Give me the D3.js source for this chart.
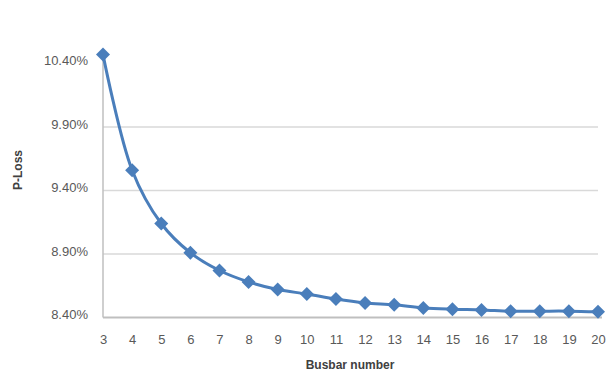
<!DOCTYPE html>
<html>
<head>
<meta charset="utf-8">
<script src="https://cdn.jsdelivr.net/npm/d3@7"></script>
<style>
  body { margin: 0; background: #fff; }
  text { font-family: "Liberation Sans", Arial, sans-serif; }
</style>
</head>
<body>
<div id="graph"></div>
<script>
var busbars = [3, 4, 5, 6, 7, 8, 9, 10, 11, 12, 13, 14, 15, 16, 17, 18, 19, 20];
var pertes = [10.47, 9.56, 9.14, 8.91, 8.77, 8.68, 8.62, 8.585, 8.545, 8.515, 8.50, 8.475, 8.465, 8.46, 8.45, 8.45, 8.45, 8.445];
var graduations = [8.40, 8.90, 9.40, 9.90, 10.40];

function dessin() {
    var width = 610, height = 376,
        gauche = 103, droite = 598, haut = 63.5, bas = 317.5,
        couleur = "#4a7ebb",

        svg = d3.select("#graph")
            .append("svg")
                .attr("width", width)
                .attr("height", height),

        x = d3.scaleLinear()
            .domain([3, 20])
            .range([gauche, droite]),

        y = d3.scaleLinear()
            .domain([8.40, 10.40])
            .range([bas, haut]);

    // grille horizontale
    svg.selectAll(".grille")
        .data(graduations.filter(function (d) { return d > 8.40 && d < 10.40; }))
        .enter()
        .append("line")
        .attr("x1", gauche)
        .attr("x2", droite)
        .attr("y1", function (d) { return y(d); })
        .attr("y2", function (d) { return y(d); })
        .style("stroke", "#d9d9d9")
        .style("stroke-width", 1.5);

    // axe vertical
    var axeY = svg.append("g")
        .attr("transform", "translate(" + gauche + ",0)")
        .call(d3.axisLeft(y)
            .tickValues(graduations)
            .tickSize(0)
            .tickPadding(15)
            .tickFormat(function (d) { return d.toFixed(2) + "%"; }));
    axeY.select(".domain").style("stroke", "#bfbfbf").style("stroke-width", 1.5)
        .attr("d", "M0," + (y(10.40) - 5) + "V" + bas);
    axeY.selectAll("text")
        .attr("dy", "0.1em")
        .style("font-size", "13px")
        .style("fill", "#595959");

    // axe horizontal
    var axeX = svg.append("g")
        .attr("transform", "translate(0," + bas + ")")
        .call(d3.axisBottom(x)
            .tickValues(busbars)
            .tickSize(0)
            .tickPadding(17)
            .tickFormat(d3.format("d")));
    axeX.select(".domain").style("stroke", "#bfbfbf").style("stroke-width", 2)
        .attr("d", "M" + gauche + ",0H" + (droite + 4));
    axeX.selectAll("text").style("font-size", "13px").style("fill", "#595959");

    svg.append("text")
        .attr("x", 350)
        .attr("y", 369)
        .style("text-anchor", "middle")
        .style("font-size", "12px")
        .style("font-weight", "bold")
        .style("fill", "#404040")
        .text("Busbar number");

    svg.append("text")
        .attr("transform", "translate(22,170) rotate(-90)")
        .style("text-anchor", "middle")
        .style("font-size", "12px")
        .style("font-weight", "bold")
        .style("fill", "#404040")
        .text("P-Loss");

    // courbe lissée
    svg.append("path")
        .datum(busbars)
        .attr("fill", "none")
        .attr("stroke", couleur)
        .attr("stroke-width", 3)
        .attr("d", d3.line()
            .curve(d3.curveCatmullRom)
            .x(function (d) { return x(d); })
            .y(function (d, i) { return y(pertes[i]); }));

    // marqueurs en losange
    svg.selectAll(".point")
        .data(busbars)
        .enter()
        .append("path")
        .attr("transform", function (d, i) { return "translate(" + x(d) + "," + y(pertes[i]) + ")"; })
        .attr("d", "M0,-7L7,0L0,7L-7,0Z")
        .attr("fill", couleur);
}

dessin();
</script>
</body>
</html>
